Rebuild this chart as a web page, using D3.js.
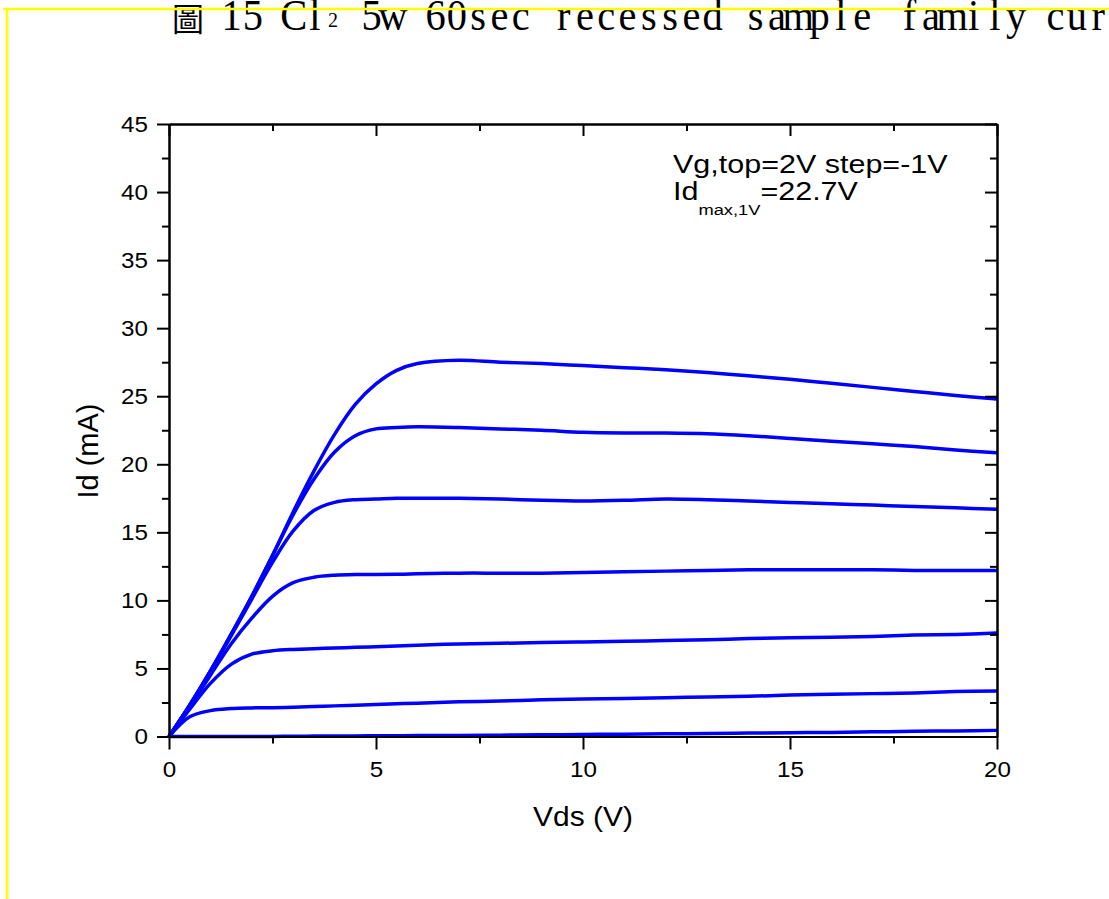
<!DOCTYPE html>
<html>
<head>
<meta charset="utf-8">
<script src="https://cdn.jsdelivr.net/npm/d3@7"></script>
<style>
  body { margin: 0; background: #fff; }
  svg { display: block; }
</style>
</head>
<body>
<svg id="svg" width="1109" height="899"></svg>
<script>
// drain voltage samples (V)
var vds = [0,0.5,1,1.5,2,2.5,3,3.5,4,4.5,5,5.5,6,7,8,9,10,11,12,13,14,15,16,17,18,19,20];
// drain current (mA), Vg = 2V down to -4V
var id2V  = [0,2.3,4.8,7.5,10.3,13.3,16.5,19.5,22.2,24.4,25.9,26.9,27.4,27.65,27.5,27.4,27.25,27.1,26.95,26.75,26.5,26.25,25.95,25.65,25.35,25.05,24.8];
var id1V  = [0,2.3,4.8,7.5,10.3,13.3,16.3,18.9,20.9,22.1,22.6,22.7,22.75,22.7,22.6,22.5,22.35,22.3,22.3,22.25,22.1,21.9,21.7,21.5,21.3,21.05,20.85];
var id0V  = [0,2.3,4.8,7.4,10.1,12.8,15.1,16.6,17.2,17.4,17.45,17.5,17.5,17.5,17.45,17.35,17.3,17.35,17.45,17.4,17.3,17.2,17.1,17.0,16.9,16.8,16.7];
var idm1V = [0,2.2,4.5,6.8,8.7,10.3,11.3,11.7,11.85,11.9,11.9,11.92,11.95,12.0,12.0,12.0,12.05,12.1,12.15,12.2,12.25,12.25,12.25,12.25,12.2,12.2,12.2];
var idm2V = [0,2.0,3.9,5.3,6.05,6.3,6.4,6.45,6.5,6.55,6.6,6.65,6.7,6.8,6.85,6.9,6.95,7.0,7.05,7.1,7.2,7.25,7.3,7.35,7.45,7.5,7.6];
var idm3V = [0,1.45,1.9,2.05,2.1,2.12,2.15,2.2,2.25,2.3,2.35,2.4,2.45,2.55,2.6,2.7,2.75,2.8,2.85,2.9,2.95,3.05,3.1,3.15,3.2,3.3,3.35];
var idm4V = [0,0,0,0,0,0,0.02,0.03,0.04,0.04,0.05,0.06,0.07,0.08,0.1,0.12,0.15,0.17,0.2,0.22,0.25,0.28,0.3,0.34,0.38,0.41,0.45];
var curves = [id2V, id1V, id0V, idm1V, idm2V, idm3V, idm4V];

var xMajor = [0,5,10,15,20];
var xMinor = [2.5,7.5,12.5,17.5];
var yMajor = [0,5,10,15,20,25,30,35,40,45];
var yMinor = [2.5,7.5,12.5,17.5,22.5,27.5,32.5,37.5,42.5];

// title words and the left edge of their first monospace cell
var titleWords = [["15",221],["Cl",283],["5w",361],["60sec",425],
                  ["recessed",553],["sample",745],["family",899],["curves",1045]];
var cell = 21.3, squeeze = 0.92;

var svg = d3.select("svg");
var plotLeft = 169, plotRight = 997, plotTop = 124, plotBottom = 736.5;
var wide = 1.1; // text in the picture is a little stretched sideways

var x = d3.scaleLinear().domain([0,20]).range([plotLeft,plotRight]);
var y = d3.scaleLinear().domain([0,45]).range([plotBottom,plotTop]);

// title
svg.append("text").attr("x",172).attr("y",31)
   .attr("font-family","Noto Sans CJK TC").attr("font-size",32).text("圖");
titleWords.forEach(function(w) {
    var xs = w[0].split("").map(function(c,i){ return ((w[1] + cell*i + cell/2)/squeeze).toFixed(1); });
    svg.append("text").attr("transform","scale("+squeeze+",1)")
       .attr("x",xs.join(" ")).attr("y",30).attr("text-anchor","middle")
       .attr("font-family","Liberation Serif").attr("font-size",44)
       .text(w[0]);
});
svg.append("text").attr("x",333).attr("y",27).attr("text-anchor","middle")
   .attr("font-family","Liberation Serif").attr("font-size",20).text("2");

// yellow frame
svg.append("path").attr("d","M3,9H1109M7,9V899")
   .attr("stroke","#ffff00").attr("stroke-width",2.5).attr("fill","none");

// curves
var line = d3.line()
    .x(function(d,i){ return x(vds[i]); })
    .y(function(d){ return y(d); })
    .curve(d3.curveCatmullRom.alpha(0.5));

svg.append("g").selectAll("path").data(curves).enter().append("path")
   .attr("d",line)
   .attr("fill","none").attr("stroke","#0000ff").attr("stroke-width",3.5)
   .attr("stroke-linejoin","round");

// axes
function styleAxis(g) {
    g.attr("font-family","Liberation Sans").attr("font-size",22);
    g.selectAll("path.domain").attr("stroke","#000").attr("stroke-width",2);
    g.selectAll(".tick line").attr("stroke","#000").attr("stroke-width",2);
    g.selectAll("text").attr("fill","#000");
}

var gB = svg.append("g").attr("transform","translate(0,"+plotBottom+")")
   .call(d3.axisBottom(x).tickValues(xMajor).tickSize(13).tickPadding(12).tickSizeOuter(0));
styleAxis(gB);
gB.selectAll(".tick text").attr("transform","scale("+wide+",1)");
var gBm = svg.append("g").attr("transform","translate(0,"+plotBottom+")")
   .call(d3.axisBottom(x).tickValues(xMinor).tickSize(7).tickFormat("").tickSizeOuter(0));
styleAxis(gBm);

var gL = svg.append("g").attr("transform","translate("+plotLeft+",0)")
   .call(d3.axisLeft(y).tickValues(yMajor).tickSize(12).tickPadding(9).tickSizeOuter(0));
styleAxis(gL);
gL.selectAll(".tick text").attr("x",-21/wide).attr("transform","scale("+wide+",1)");
var gLm = svg.append("g").attr("transform","translate("+plotLeft+",0)")
   .call(d3.axisLeft(y).tickValues(yMinor).tickSize(7).tickFormat("").tickSizeOuter(0));
styleAxis(gLm);

var gT = svg.append("g").attr("transform","translate(0,"+plotTop+")")
   .call(d3.axisBottom(x).tickValues(xMajor).tickSize(12).tickFormat("").tickSizeOuter(0));
styleAxis(gT);
var gTm = svg.append("g").attr("transform","translate(0,"+plotTop+")")
   .call(d3.axisBottom(x).tickValues(xMinor).tickSize(7).tickFormat("").tickSizeOuter(0));
styleAxis(gTm);

var gR = svg.append("g").attr("transform","translate("+plotRight+",0)")
   .call(d3.axisLeft(y).tickValues(yMajor).tickSize(12).tickFormat("").tickSizeOuter(0));
styleAxis(gR);
var gRm = svg.append("g").attr("transform","translate("+plotRight+",0)")
   .call(d3.axisLeft(y).tickValues(yMinor).tickSize(7).tickFormat("").tickSizeOuter(0));
styleAxis(gRm);

// axis titles
svg.append("text").attr("transform","translate("+((plotLeft+plotRight)/2)+",826) scale(1.07,1)")
   .attr("text-anchor","middle")
   .attr("font-family","Liberation Sans").attr("font-size",28).text("Vds (V)");
svg.append("text").attr("transform","translate(98,451) rotate(-90)").attr("text-anchor","middle")
   .attr("font-family","Liberation Sans").attr("font-size",29).text("Id (mA)");

// annotation
svg.append("text").attr("transform","translate(673,173) scale(1.22,1)")
   .attr("font-family","Liberation Sans").attr("font-size",25).text("Vg,top=2V step=-1V");
var ann = svg.append("text").attr("transform","translate(673,200) scale(1.22,1)")
   .attr("font-family","Liberation Sans").attr("font-size",25);
ann.append("tspan").text("Id");
ann.append("tspan").attr("font-size",15).attr("dy",15).text("max,1V");
ann.append("tspan").attr("dy",-15).text("=22.7V");
</script>
</body>
</html>
